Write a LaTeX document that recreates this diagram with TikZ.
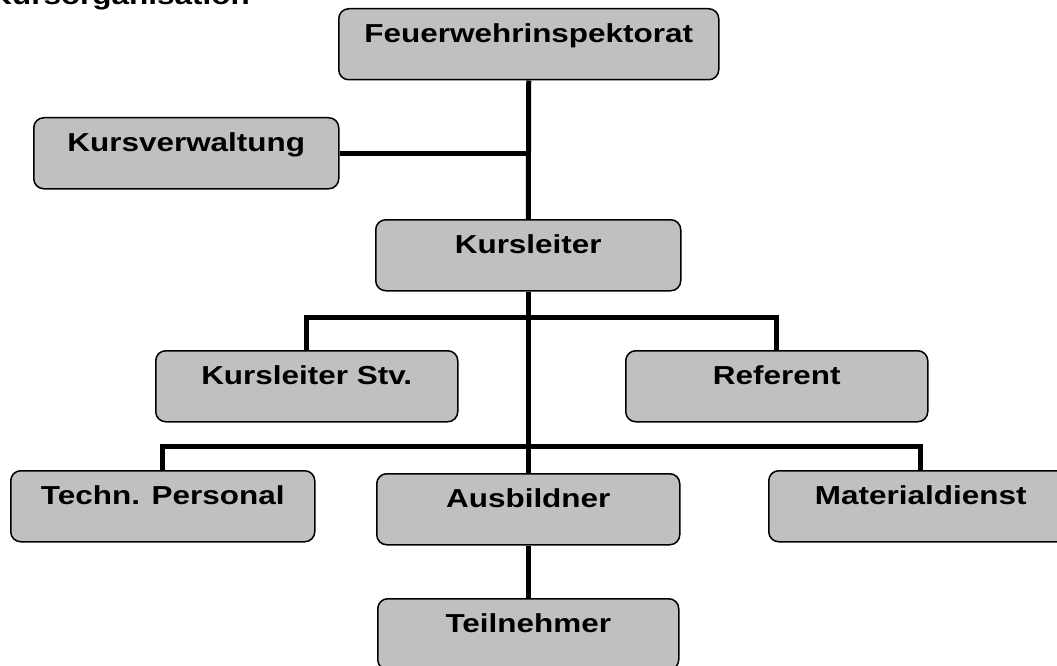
\documentclass[tikz,border=0pt]{standalone}
\usepackage{fontspec}
\newfontfamily\boxfont{Liberation Sans}[FakeStretch=1.21]
\definecolor{boxgray}{HTML}{C0C0C0}
\tikzset{
  orgbox/.style={draw=black, line width=1.5pt, fill=boxgray, rounded corners=10pt,
    inner sep=0pt, minimum width=#1, text height=34pt, text depth=37pt,
    font=\boxfont\bfseries\fontsize{26pt}{30pt}\selectfont, anchor=north west},
  orgbox/.default=303pt,
  conn/.style={draw=black, line width=5pt, line join=miter}
}
\begin{document}
\begin{tikzpicture}[x=1pt,y=-1pt]
\useasboundingbox (0,0) rectangle (1057,666);
\node[font=\boxfont\bfseries\fontsize{26pt}{30pt}\selectfont, anchor=base east, inner sep=0pt] (title) at (250,5) {Kursorganisation};
\node[orgbox=380pt] (feuer) at (338,8) {Feuerwehrinspektorat};
\node[orgbox=305pt] (kv) at (33,117) {Kursverwaltung};
\node[orgbox=305pt] (kl) at (375,219) {Kursleiter};
\node[orgbox=302pt] (stv) at (155,350) {Kursleiter Stv.};
\node[orgbox=302pt] (ref) at (625,350) {Referent};
\node[orgbox=304pt] (tp) at (10,470) {Techn. Personal};
\node[orgbox=303pt] (aus) at (376,473) {Ausbildner};
\node[orgbox=304pt] (mat) at (768,470) {Materialdienst};
\node[orgbox=301pt] (tn) at (377,598) {Teilnehmer};
\coordinate (h1) at (528,317);
\coordinate (h2) at (528,446);
\draw[conn] (feuer.south) -- (kl.north);
\draw[conn] (kv.east) -- (kv.east -| feuer.south);
\draw[conn] (kl.south) -- (aus.north);
\draw[conn] (stv.north) |- (ref.north |- h1) -- (ref.north);
\draw[conn] (tp.north) |- (mat.north |- h2) -- (mat.north);
\draw[conn] (aus.south) -- (tn.north);
\end{tikzpicture}
\end{document}
